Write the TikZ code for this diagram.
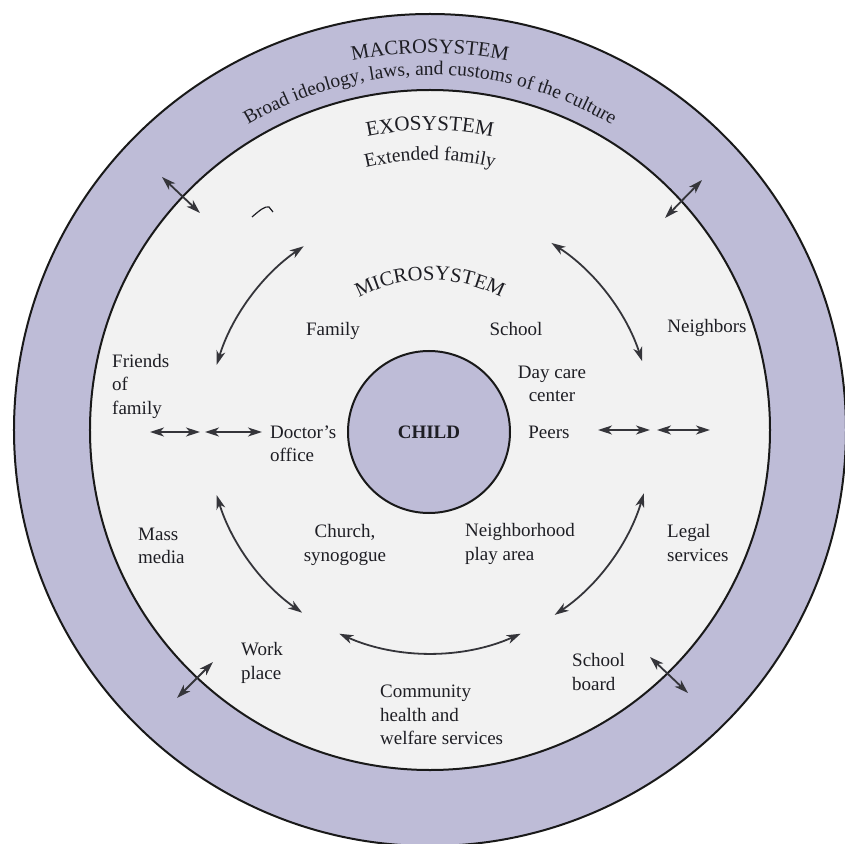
\documentclass[tikz,border=0pt]{standalone}
\usepackage{fontspec}
\setmainfont{Liberation Serif}
\usetikzlibrary{arrows.meta,decorations.text}
\definecolor{ring}{RGB}{190,188,215}
\definecolor{inner}{RGB}{242,242,242}
\definecolor{ink}{RGB}{30,30,36}
\begin{document}
\begin{tikzpicture}[x=1pt,y=1pt,
  lbl/.style={font=\rmfamily\fontsize{19}{23.5}\selectfont, text=ink, inner sep=0pt},
  dbl/.style={{Stealth[length=14pt,width=9pt,inset=4pt]}-{Stealth[length=14pt,width=9pt,inset=4pt]}, line width=1.8pt, draw=ink!90},
  ringline/.style={draw=black!90, line width=2pt}
]
\useasboundingbox (-430,-413) rectangle (415,430);
\fill[white] (-430,-413) rectangle (415,430);
% circles
\node[circle, ringline, fill=ring, minimum size=832pt, inner sep=0pt] (macro) at (0,0) {};
\node[circle, ringline, fill=inner, minimum size=680pt, inner sep=0pt] (exo) at (0,0) {};
\node[circle, ringline, fill=ring, minimum size=162pt, inner sep=0pt,
      font=\rmfamily\fontsize{19}{23}\selectfont\bfseries, text=ink] (child) at (-1,-2) {CHILD};
% curved titles
\path[decorate, decoration={text along path, text align=center, text color=ink,
  text={|\rmfamily\fontsize{20.5}{24}\selectfont|MACROSYSTEM}}]
  (180:377) arc[start angle=180, end angle=0, radius=377];
\path[decorate, decoration={text along path, text align=center, text color=ink,
  text={|\rmfamily\fontsize{19.5}{23}\selectfont|Broad ideology, laws, and customs of the culture}}]
  (180:355) arc[start angle=180, end angle=0, radius=355];
\path[decorate, decoration={text along path, text align=center, text color=ink,
  text={|\rmfamily\fontsize{21}{24}\selectfont|EXOSYSTEM}}]
  (180:300) arc[start angle=180, end angle=0, radius=300];
\path[decorate, decoration={text along path, text align=center, text color=ink,
  text={|\rmfamily\fontsize{19.5}{23}\selectfont|Extended family}}]
  (180:270) arc[start angle=180, end angle=0, radius=270];
\path[decorate, decoration={text along path, text align=center, text color=ink,
  text={|\rmfamily\fontsize{20.5}{23}\selectfont|MICROSYSTEM}}]
  (180:150) arc[start angle=180, end angle=0, radius=150];
% labels
\node[lbl] (family) at (-97,99) {Family};
\node[lbl] (school) at (86,101) {School};
\node[lbl] (neighbors) at (277,102) {Neighbors};
\node[lbl, align=left, anchor=west] (friends) at (-318,44) {Friends\\of\\family};
\node[lbl, align=center] (daycare) at (122,46) {Day care\\center};
\node[lbl, align=left, anchor=west] (doctor) at (-160,-14) {Doctor's\\office};
\node[lbl] (peers) at (119,-2) {Peers};
\node[lbl, align=left, anchor=west] (mass) at (-292,-116) {Mass\\media};
\node[lbl, align=center] (church) at (-85,-115) {Church,\\synogogue};
\node[lbl, align=left, anchor=west] (play) at (35,-114) {Neighborhood\\play area};
\node[lbl, align=left, anchor=west] (legal) at (237,-113) {Legal\\services};
\node[lbl, align=left, anchor=west] (work) at (-189,-233) {Work\\place};
\node[lbl, align=left, anchor=west] (board) at (142,-242) {School\\board};
\node[lbl, align=left, anchor=west] (community) at (-50,-285) {Community\\health and\\welfare services};
% microsystem arcs
\coordinate (m1) at (163:223);
\coordinate (m2) at (18:223);
\coordinate (m3) at (197:223);
\coordinate (m4) at (246:223);
\coordinate (m5) at (304:223);
\draw[dbl] (m1) arc[start angle=163, end angle=124.5, radius=223];
\draw[dbl] (m2) arc[start angle=18, end angle=57, radius=223];
\draw[dbl] (m3) arc[start angle=197, end angle=235, radius=223];
\draw[dbl] (m4) arc[start angle=246, end angle=294, radius=223];
\draw[dbl] (m5) arc[start angle=304, end angle=343.5, radius=223];
% horizontal double arrows
\coordinate (l1) at (-280,-2); \coordinate (l2) at (-230,-2);
\coordinate (l3) at (-225,-2); \coordinate (l4) at (-168,-2);
\coordinate (r1) at (168,0); \coordinate (r2) at (220,0);
\coordinate (r3) at (227,0); \coordinate (r4) at (280,0);
\draw[dbl] (l1) -- (l2);
\draw[dbl] (l3) -- (l4);
\draw[dbl] (r1) -- (r2);
\draw[dbl] (r3) -- (r4);
% diagonal double arrows across exosystem boundary
\coordinate (tl1) at (-268,253); \coordinate (tl2) at (-230,217);
\coordinate (tr1) at (272,250);  \coordinate (tr2) at (235,212);
\coordinate (bl1) at (-217,-232); \coordinate (bl2) at (-253,-268);
\coordinate (br1) at (220,-227); \coordinate (br2) at (258,-263);
\draw[dbl] (tl1) -- (tl2);
\draw[dbl] (tr1) -- (tr2);
\draw[dbl] (bl1) -- (bl2);
\draw[dbl] (br1) -- (br2);
% small stray mark
\coordinate (sq1) at (-178,213);
\coordinate (sq2) at (-161,223);
\coordinate (sq3) at (-157,218);
\draw[ink, line width=1.2pt] (sq1) .. controls (-170,220) and (-165,224) .. (sq2) -- (sq3);
\end{tikzpicture}
\end{document}
